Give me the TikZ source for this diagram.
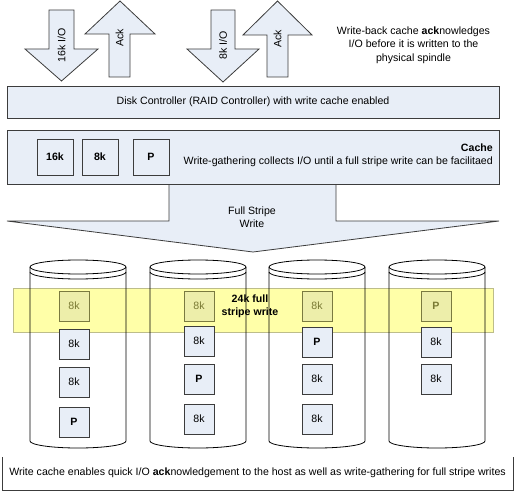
\documentclass[tikz,border=0pt]{standalone}
\usepackage{fontspec}
\setmainfont{Liberation Sans}
\definecolor{boxblue}{HTML}{E8EEF7}
\definecolor{edgegray}{HTML}{3C3C3C}
\definecolor{bandyellow}{HTML}{FFFFA8}
\definecolor{bandedge}{HTML}{BDBD8A}
\definecolor{olivebox}{HTML}{EDEEAA}
\definecolor{oliveedge}{HTML}{7A7A40}
\definecolor{olivetext}{HTML}{7A7A34}
\newcommand\mycyl[1]{%
  \draw[cyl] (#1-48,267) -- (#1-48,441) arc[start angle=180,end angle=0,x radius=48,y radius=7] -- (#1+48,267);
  \draw[cyl] (#1,267) ellipse[x radius=48,y radius=7];
  \draw[cyl] (#1-48,272) arc[start angle=180,end angle=0,x radius=48,y radius=7];
}
\begin{document}
\begin{tikzpicture}[x=1pt,y=-1pt,
  every node/.style={font=\fontsize{10.6}{13}\selectfont, inner sep=0pt},
  arrowshp/.style={fill=boxblue, draw=edgegray, line width=0.8pt, line join=miter},
  panel/.style={rectangle, fill=boxblue, draw=edgegray, line width=0.8pt},
  blk/.style={rectangle, fill=boxblue, draw=edgegray, line width=0.8pt, minimum width=30pt, minimum height=30pt},
  bblk/.style={blk, font=\fontsize{10.6}{13}\selectfont\bfseries},
  cblk/.style={blk, minimum width=36pt, minimum height=36pt, font=\fontsize{10.6}{13}\selectfont\bfseries},
  yblk/.style={rectangle, fill=olivebox, draw=oliveedge, line width=0.8pt, minimum width=30pt, minimum height=30pt, text=olivetext},
  ybblk/.style={yblk, font=\fontsize{10.6}{13}\selectfont\bfseries},
  cyl/.style={draw=black, line width=0.8pt},
]
\useasboundingbox (0,0) rectangle (516,492);

% top arrows
\draw[arrowshp] (49,10) -- (74,10) -- (74,49) -- (98,49) -- (61.5,81) -- (25,49) -- (49,49) -- cycle;
\node[rotate=90] (io16) at (61.5,45) {16k I/O};
\draw[arrowshp] (109,77) -- (130,77) -- (130,34) -- (155,34) -- (120,1) -- (85,34) -- (109,34) -- cycle;
\node[rotate=90] (ack1) at (119.5,38) {Ack};
\draw[arrowshp] (211,10) -- (235,10) -- (235,49) -- (259,49) -- (223,82) -- (187,49) -- (211,49) -- cycle;
\node[rotate=90] (io8) at (223,45) {8k I/O};
\draw[arrowshp] (267,77) -- (288,77) -- (288,35) -- (312,35) -- (277.5,1) -- (243,35) -- (267,35) -- cycle;
\node[rotate=90] (ack2) at (277.5,39) {Ack};

\node[align=center, font=\fontsize{10.6}{13.5}\selectfont] (note) at (413.5,45)
  {Write-back cache \textbf{ack}nowledges\\I/O before it is written to the\\physical spindle};

% controller
\node[panel, minimum width=492pt, minimum height=32pt] (ctrl) at (253,102)
  {Disk Controller (RAID Controller) with write cache enabled};

% full stripe arrow
\fill[boxblue] (169,184) -- (169,221) -- (7,221) -- (253,252) -- (499,221) -- (336,221) -- (336,184) -- cycle;
\draw[edgegray, line width=0.8pt, line join=miter] (169,184) -- (169,221) -- (7,221) -- (253,252) -- (499,221) -- (336,221) -- (336,184);
\node[align=center] (fsw) at (252,217.5) {Full Stripe\\Write};

% cache
\node[panel, minimum width=492pt, minimum height=54pt] (cache) at (253,157) {};
\node[cblk] (c16) at (55,157) {16k};
\node[cblk] (c8) at (100,157) {8k};
\node[cblk] (cP) at (151,157) {P};
\node[align=right, anchor=east] (cachetxt) at (493,155.5)
  {\textbf{Cache}\\Write-gathering collects I/O until a full stripe write can be facilitaed};

% stripe band
\fill[bandyellow, draw=bandedge, line width=0.6pt] (13,288) rectangle (493,332);

% cylinders
\mycyl{78}
\mycyl{198}
\mycyl{317}
\mycyl{437}

% band blocks
\node[yblk] (a1) at (74,306) {8k};
\node[yblk] (b1) at (199,306) {8k};
\node[yblk] (d1) at (317,306) {8k};
\node[ybblk] (e1) at (436,306) {P};
\node[align=center, font=\fontsize{10.6}{13}\selectfont\bfseries] (stripe) at (250,306.5) {24k full\\stripe write};

% disk 1
\node[blk] (a2) at (74,344) {8k};
\node[blk] (a3) at (74,382) {8k};
\node[bblk] (a4) at (74,422) {P};
% disk 2
\node[blk] (b2) at (199,341) {8k};
\node[bblk] (b3) at (199,379) {P};
\node[blk] (b4) at (199,419) {8k};
% disk 3
\node[bblk] (d2) at (317,342) {P};
\node[blk] (d3) at (317,379) {8k};
\node[blk] (d4) at (317,419) {8k};
% disk 4
\node[blk] (e2) at (436,342) {8k};
\node[blk] (e3) at (436,379) {8k};

% bottom note
\draw[edgegray, line width=0.8pt] (2,457) -- (2,490) -- (513,490) -- (513,457);
\node (summary) at (257.5,473)
  {Write cache enables quick I/O \textbf{ack}nowledgement to the host as well as write-gathering for full stripe writes};
\end{tikzpicture}
\end{document}
